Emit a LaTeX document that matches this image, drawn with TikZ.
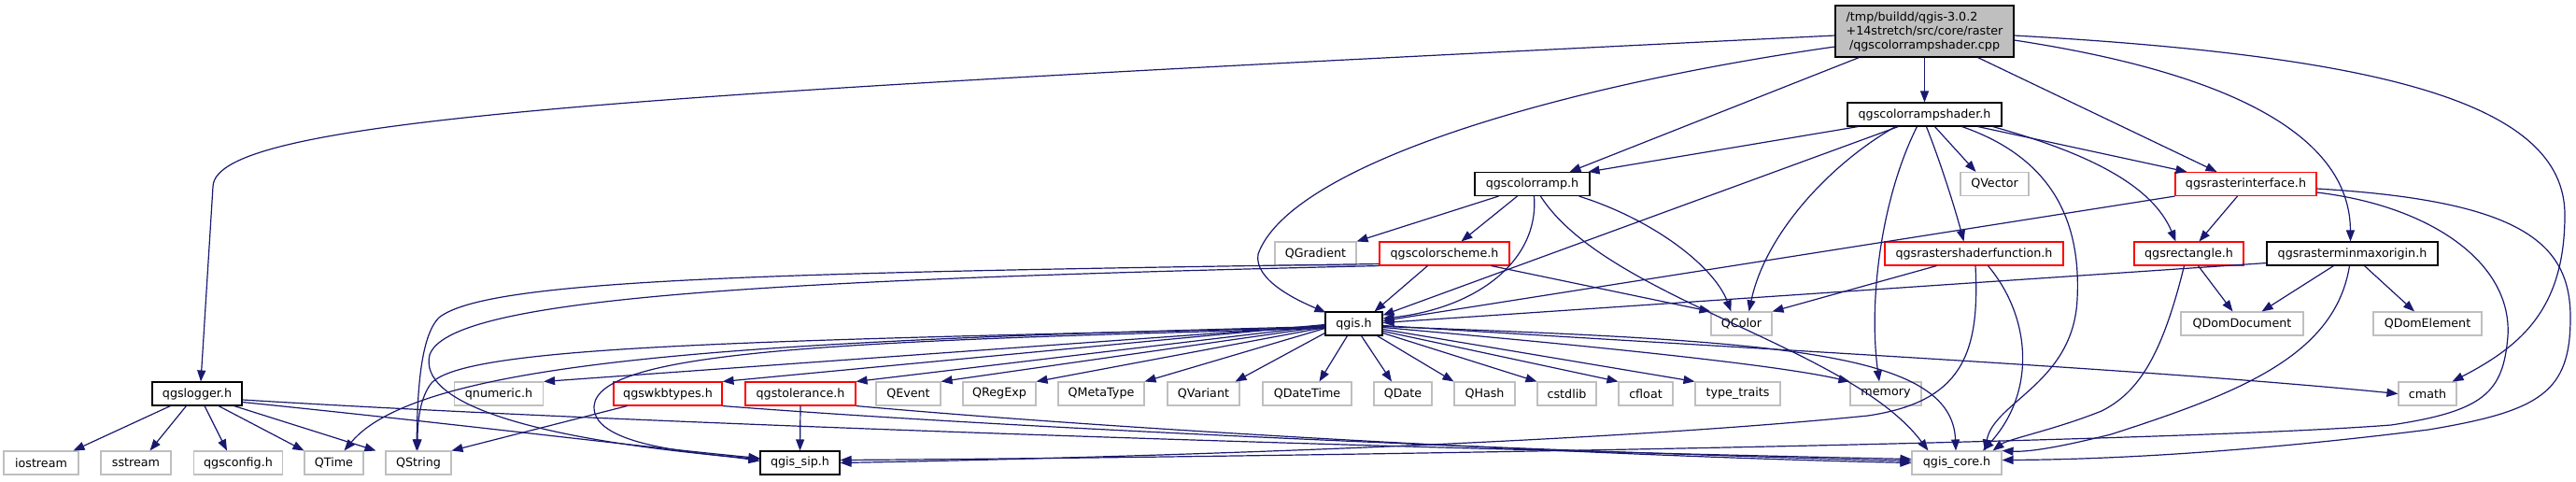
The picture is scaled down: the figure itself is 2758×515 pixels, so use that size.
\documentclass[tikz,border=0pt]{standalone}
\usepackage{fontspec}
\setmainfont{DejaVu Sans}
\usetikzlibrary{arrows.meta,calc}
\definecolor{edgec}{HTML}{191970}
\definecolor{greyb}{HTML}{BFBFBF}
\tikzset{
 box/.style={rectangle, inner sep=0pt, minimum height=25pt, line width=1.1pt, fill=white, font=\fontsize{12.7}{15}\selectfont, text=black},
 blk/.style={box, draw=black},
 gry/.style={box, draw=greyb},
 redb/.style={box, draw=red},
 dep/.style={draw=edgec, line width=1.2pt, -{Triangle[length=12pt,width=9pt]}},
}
\begin{document}
\begin{tikzpicture}[x=1pt,y=-1pt]
\useasboundingbox (0,0) rectangle (2758,515);
% row 0
\node[box, draw=black, fill=greyb, minimum width=191pt, minimum height=55pt, align=center] (root) at (2060.5,33.5)
 {\rlap{/tmp/buildd/qgis-3.0.2}\phantom{+14stretch/src/core/raster}\\+14stretch/src/core/raster\\/qgscolorrampshader.cpp};
% row 1
\node[blk, minimum width=165pt] (shader) at (2060.5,122.5) {qgscolorrampshader.h};
% row 2
\node[blk, minimum width=123pt] (ramp) at (1640.5,197) {qgscolorramp.h};
\node[gry, minimum width=73pt] (qvector) at (2135.5,197) {QVector};
\node[redb, minimum width=151pt] (rif) at (2404.5,197) {qgsrasterinterface.h};
% row 3
\node[gry, minimum width=87pt] (qgrad) at (1408.5,271.5) {QGradient};
\node[redb, minimum width=139pt] (scheme) at (1546.5,271.5) {qgscolorscheme.h};
\node[redb, minimum width=191pt] (rsf) at (2113.5,271.5) {qgsrastershaderfunction.h};
\node[redb, minimum width=117pt] (rect) at (2343.5,271.5) {qgsrectangle.h};
\node[blk, minimum width=183pt] (rmmo) at (2518.5,271.5) {qgsrasterminmaxorigin.h};
% row 4
\node[blk, minimum width=61pt] (qgis) at (1449.5,346.5) {qgis.h};
\node[gry, minimum width=65pt] (qcolor) at (1864.5,346.5) {QColor};
\node[gry, minimum width=131pt] (qdomdoc) at (2400.5,346.5) {QDomDocument};
\node[gry, minimum width=116pt] (qdomel) at (2599,346.5) {QDomElement};
% row 5
\node[blk, minimum width=96pt] (logger) at (211,421.5) {qgslogger.h};
\node[gry, minimum width=95pt] (qnumeric) at (534,421.5) {qnumeric.h};
\node[redb, minimum width=116pt] (wkb) at (715,421.5) {qgswkbtypes.h};
\node[redb, minimum width=118pt] (tol) at (857,421.5) {qgstolerance.h};
\node[gry, minimum width=69pt] (qevent) at (972.5,421.5) {QEvent};
\node[gry, minimum width=78pt] (qregexp) at (1070,421.5) {QRegExp};
\node[gry, minimum width=92pt] (qmetatype) at (1179,421.5) {QMetaType};
\node[gry, minimum width=77pt] (qvariant) at (1288.5,421.5) {QVariant};
\node[gry, minimum width=95pt] (qdatetime) at (1399.5,421.5) {QDateTime};
\node[gry, minimum width=62pt] (qdate) at (1502,421.5) {QDate};
\node[gry, minimum width=65pt] (qhash) at (1589.5,421.5) {QHash};
\node[gry, minimum width=63pt] (cstdlib) at (1677.5,421.5) {cstdlib};
\node[gry, minimum width=58pt] (cfloat) at (1762,421.5) {cfloat};
\node[gry, minimum width=91pt] (typetraits) at (1860.5,421.5) {type\_traits};
\node[gry, minimum width=76pt] (memory) at (2019,421.5) {memory};
\node[gry, minimum width=62pt] (cmath) at (2599,421.5) {cmath};
% row 6
\node[gry, minimum width=80pt] (iostream) at (44,495.5) {iostream};
\node[gry, minimum width=75pt] (sstream) at (145.5,495.5) {sstream};
\node[gry, minimum width=95pt] (qgsconfig) at (255,495.5) {qgsconfig.h};
\node[gry, minimum width=63pt] (qtime) at (357.5,495.5) {QTime};
\node[gry, minimum width=70pt] (qstring) at (448,495.5) {QString};
\node[blk, minimum width=85pt] (sip) at (856.5,495.5) {qgis\_sip.h};
\node[gry, minimum width=96pt] (core) at (2095,495.5) {qgis\_core.h};

% ---- root edges
\draw[dep] ($(root.west)+(0,4.5)$) .. controls (700,100) and (229,125) .. (228,200) -- ($(logger.north)+(4,0)$);
\draw[dep] ($(root.west)+(0,16.5)$) .. controls (1650,95) and (1380,180) .. (1347,272) .. controls (1342,300) and (1390,322) .. ($(qgis.north west)+(1,1)$);
\draw[dep] ($(root.south west)+(26,0)$) -- ($(ramp.north)+(40,0)$);
\draw[dep] (root.south) -- (shader.north);
\draw[dep] ($(root.south east)+(-39,0)$) -- ($(rif.north)+(-31,0)$);
\draw[dep] ($(root.east)+(0,9.5)$) .. controls (2400,80) and (2516,150) .. ($(rmmo.north)+(-2,0)$);
\draw[dep] ($(root.east)+(0,4.5)$) .. controls (2550,60) and (2746,110) .. (2746,230) .. controls (2746,330) and (2700,370) .. ($(cmath.north east)+(-5,0)$);

% ---- shader edges
\draw[dep] ($(shader.south west)+(12,0)$) -- ($(ramp.north east)+(-2,0)$);
\draw[dep] ($(shader.south west)+(55,0)$) -- ($(qgis.north east)+(0,4)$);
\draw[dep] ($(shader.south west)+(52,0)$) .. controls (1960,175) and (1890,250) .. ($(qcolor.north)+(8,0)$);
\draw[dep] ($(shader.south west)+(75,0)$) .. controls (2015,210) and (2000,320) .. ($(memory.north)+(-7,0)$);
\draw[dep] ($(shader.south west)+(85,0)$) .. controls (2080,180) and (2095,230) .. ($(rsf.north)+(-11,0)$);
\draw[dep] ($(shader.south west)+(94,0)$) -- ($(qvector.north)+(-20,0)$);
\draw[dep] ($(shader.south east)+(-43,0)$) .. controls (2200,170) and (2228,240) .. (2224,320) .. controls (2220,410) and (2135,430) .. ($(core.north)+(30,0)$);
\draw[dep] ($(shader.south east)+(-26,0)$) -- ($(rif.north)+(-63,0)$);
\draw[dep] ($(shader.south east)+(-10,0)$) .. controls (2240,165) and (2305,200) .. ($(rect.north)+(-14,0)$);

% ---- colorramp edges
\draw[dep] ($(ramp.south west)+(26,0)$) -- (qgrad.north east);
\draw[dep] ($(ramp.south west)+(46,0)$) -- ($(scheme.north)+(18,0)$);
\draw[dep] ($(ramp.south west)+(64,0)$) .. controls (1648,280) and (1580,330) .. ($(qgis.east)+(0,-5.5)$);
\draw[dep] ($(ramp.south east)+(-12,0)$) .. controls (1770,235) and (1835,285) .. ($(qcolor.north west)+(22,0)$);
\draw[dep] ($(ramp.south west)+(71,0)$) .. controls (1720,320) and (1980,370) .. ($(core.north west)+(18,0)$);

% ---- colorscheme edges
\draw[dep] ($(scheme.south)+(-18,0)$) -- ($(qgis.north east)+(-9,0)$);
\draw[dep] ($(scheme.south)+(50,0)$) -- (qcolor.north west);
\draw[dep] ($(scheme.south west)+(0,-2)$) .. controls (800,292) and (520,300) .. (470,340) .. controls (450,360) and (447,420) .. ($(qstring.north)+(-2,0)$);
\draw[dep] (scheme.south west) .. controls (800,300) and (480,320) .. (460,380) .. controls (448,430) and (560,470) .. ($(sip.west)+(0,-4)$);

% ---- rasterinterface edges
\draw[dep] (rif.south west) -- ($(qgis.east)+(0,-3)$);
\draw[dep] ($(rif.south)+(-9,0)$) -- ($(rect.north)+(11,0)$);
\draw[dep] ($(rif.east)+(0,5)$) .. controls (2700,215) and (2752,260) .. (2752,340) .. controls (2752,420) and (2720,440) .. (2600,460) .. controls (2400,485) and (2250,492) .. ($(core.east)+(0,-3)$);
\draw[dep] ($(rif.east)+(0,9)$) .. controls (2600,220) and (2690,280) .. (2685,360) .. controls (2680,420) and (2660,440) .. (2560,455) .. controls (2300,475) and (1300,490) .. ($(sip.east)+(0,-3)$);

% ---- rastershaderfunction edges
\draw[dep] ($(rsf.south west)+(56,0)$) -- (qcolor.north east);
\draw[dep] ($(rsf.south)+(1.5,0)$) .. controls (2120,380) and (2100,430) .. (2000,445) .. controls (1700,475) and (1200,490) .. (sip.east);
\draw[dep] ($(rsf.south)+(15,0)$) .. controls (2175,340) and (2180,420) .. ($(core.north)+(28,0)$);

% ---- rectangle edges
\draw[dep] ($(rect.south)+(10,0)$) -- ($(qdomdoc.north)+(-10,0)$);
\draw[dep] ($(rect.south)+(-5,0)$) .. controls (2315,380) and (2290,420) .. (2250,440) .. controls (2200,460) and (2150,470) .. ($(core.north east)+(-10,0)$);

% ---- minmaxorigin edges
\draw[dep] ($(rmmo.south west)+(0,-3)$) -- ($(qgis.east)+(0,-1)$);
\draw[dep] ($(rmmo.south)+(-20,0)$) -- ($(qdomdoc.north east)+(-45,0)$);
\draw[dep] ($(rmmo.south)+(13,0)$) -- ($(qdomel.north)+(-14,0)$);
\draw[dep] ($(rmmo.south)+(-3,0)$) .. controls (2500,380) and (2400,420) .. (2260,465) .. controls (2200,480) and (2170,484) .. (core.north east);

% ---- qgis.h edges
\draw[dep] ($(qgis.west)+(0,2)$) -- (qnumeric.north east);
\draw[dep] ($(qgis.west)+(0,1)$) -- (wkb.north east);
\draw[dep] ($(qgis.west)+(0,2)$) -- (tol.north east);
\draw[dep] ($(qgis.west)+(0,3)$) -- (qevent.north east);
\draw[dep] ($(qgis.west)+(0,4)$) -- (qregexp.north east);
\draw[dep] ($(qgis.west)+(0,5)$) -- (qmetatype.north east);
\draw[dep] ($(qgis.south west)+(0,-3)$) -- ($(qvariant.north east)+(-5,0)$);
\draw[dep] ($(qgis.south)+(-7,0)$) -- ($(qdatetime.north)+(13,0)$);
\draw[dep] ($(qgis.south)+(8,0)$) -- ($(qdate.north)+(-12,0)$);
\draw[dep] ($(qgis.south east)+(-6,0)$) -- (qhash.north west);
\draw[dep] ($(qgis.east)+(0,10)$) -- (cstdlib.north west);
\draw[dep] ($(qgis.east)+(0,8)$) -- (cfloat.north west);
\draw[dep] ($(qgis.east)+(0,6)$) -- (typetraits.north west);
\draw[dep] ($(qgis.east)+(0,4)$) .. controls (1700,370) and (1900,390) .. (memory.north west);
\draw[dep] ($(qgis.east)+(0,2)$) .. controls (1900,375) and (2300,395) .. (cmath.west);
\draw[dep] ($(qgis.east)+(0,3)$) .. controls (1900,365) and (2090,375) .. ($(core.north)+(-1,0)$);
\draw[dep] ($(qgis.west)+(0,4)$) .. controls (800,365) and (500,370) .. (462,410) .. controls (450,425) and (447,450) .. ($(qstring.north)+(-1,0)$);
\draw[dep] ($(qgis.west)+(0,3)$) .. controls (800,365) and (450,385) .. ($(qtime.north)+(11,0)$);
\draw[dep] ($(qgis.west)+(0,5)$) .. controls (900,365) and (640,375) .. (636,435) .. controls (634,480) and (760,485) .. ($(sip.west)+(0,-2)$);

% ---- qgswkbtypes edges
\draw[dep] ($(wkb.south west)+(15,0)$) -- (qstring.north east);
\draw[dep] (wkb.south east) .. controls (1100,460) and (1700,485) .. ($(core.west)+(0,-2)$);

% ---- qgstolerance edges
\draw[dep] (tol.south) -- (sip.north);
\draw[dep] (tol.south east) .. controls (1200,460) and (1700,488) .. (core.west);

% ---- qgslogger edges
\draw[dep] ($(logger.south west)+(20,0)$) -- ($(iostream.north east)+(-6,0)$);
\draw[dep] ($(logger.south west)+(37,0)$) -- ($(sstream.north)+(15,0)$);
\draw[dep] ($(logger.south)+(8,0)$) -- ($(qgsconfig.north)+(-12,0)$);
\draw[dep] ($(logger.south)+(23,0)$) -- (qtime.north west);
\draw[dep] ($(logger.south east)+(-9,0)$) -- ($(qstring.north west)+(-10,0)$);
\draw[dep] ($(logger.east)+(0,6.5)$) .. controls (700,455) and (1500,480) .. ($(core.west)+(0,-4)$);
\draw[dep] ($(logger.east)+(0,9)$) .. controls (500,455) and (700,480) .. ($(sip.west)+(0,-5)$);
\end{tikzpicture}
\end{document}
